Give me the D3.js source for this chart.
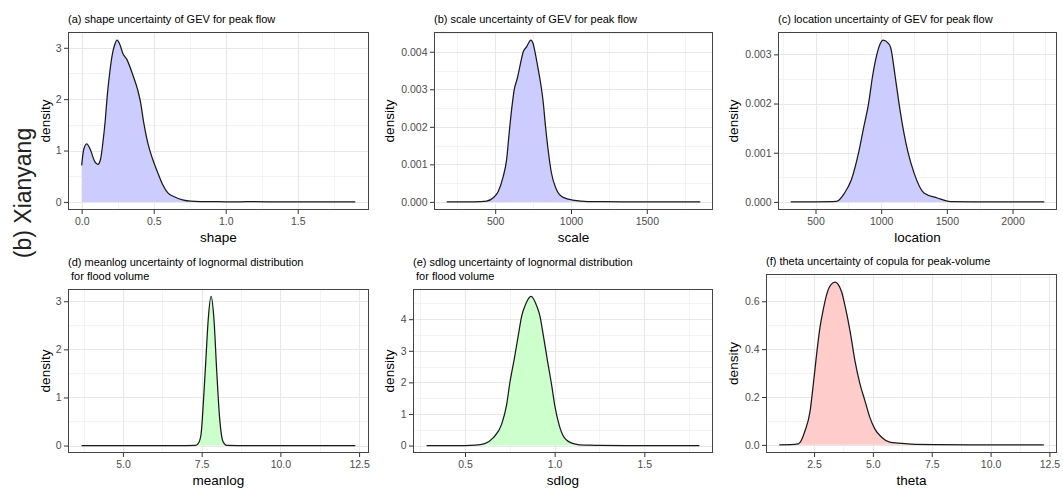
<!DOCTYPE html>
<html>
<head>
<meta charset="utf-8">
<script src="https://cdn.jsdelivr.net/npm/d3@7/dist/d3.min.js"></script>
<style>
  html, body { margin: 0; padding: 0; background: #fff; }
  svg { display: block; font-family: "Liberation Sans", Arial, sans-serif; }
</style>
</head>
<body>
<svg id="chart" width="1063" height="491"></svg>
<script>
// ---- Posterior density of each parameter (x = parameter value, y = density) ----
const shapeX = [0, 0.014, 0.035, 0.06, 0.09, 0.113, 0.131, 0.147, 0.164, 0.177, 0.194, 0.21, 0.228, 0.246, 0.263, 0.286, 0.316, 0.355, 0.389, 0.408, 0.431, 0.459, 0.493, 0.528, 0.562, 0.597, 0.643, 0.7, 0.758, 0.827, 0.9, 1.0, 1.1, 1.2, 1.3, 1.4, 1.5, 1.6, 1.7, 1.8, 1.9];
const shapeDensity = [0.71, 1.02, 1.13, 1.02, 0.79, 0.73, 0.83, 1.15, 1.6, 2.05, 2.5, 2.83, 3.05, 3.15, 3.08, 2.89, 2.76, 2.47, 2.18, 1.95, 1.54, 1.15, 0.83, 0.57, 0.34, 0.18, 0.1, 0.04, 0.013, 0.006, 0.004, 0.003, 0.003, 0.004, 0.003, 0.002, 0.001, 0.001, 0.0005, 0.0003, 0.0002];

const scaleX = [180, 300, 400, 443, 487, 520, 553, 575, 592, 608, 625, 645, 667, 685, 707, 735, 750, 766, 783, 799, 816, 832, 849, 871, 904, 948, 1025, 1112, 1200, 1400, 1600, 1853];
const scaleDensity = [0, 0.000003, 0.00001, 0.00002, 0.00011, 0.00028, 0.00068, 0.00112, 0.00183, 0.00245, 0.00298, 0.00328, 0.00369, 0.0040, 0.00413, 0.00431, 0.00422, 0.00392, 0.00355, 0.00318, 0.00268, 0.00201, 0.00139, 0.00077, 0.00033, 0.00012, 0.00004, 0.00001, 0.000005, 0.000002, 0.000001, 0];

const locationX = [311, 500, 659, 721, 773, 828, 868, 904, 934, 967, 990, 1015, 1056, 1073, 1106, 1136, 1174, 1205, 1250, 1326, 1427, 1528, 1700, 2000, 2242];
const locationDensity = [0, 0.000002, 0.00001, 0.00018, 0.00045, 0.001, 0.00153, 0.002, 0.00255, 0.003, 0.0032, 0.00329, 0.00322, 0.00313, 0.00256, 0.002, 0.00139, 0.001, 0.00059, 0.00018, 0.00008, 0.000005, 0.000001, 0, 0];

const meanlogX = [3.69, 6.0, 7.0, 7.3, 7.39, 7.48, 7.55, 7.63, 7.71, 7.8, 7.89, 7.98, 8.07, 8.18, 8.3, 9.0, 10.5, 12.38];
const meanlogDensity = [0, 0, 0, 0.002, 0.04, 0.23, 0.85, 1.74, 2.63, 3.1, 2.63, 1.53, 0.58, 0.08, 0.005, 0, 0, 0];

const sdlogX = [0.286, 0.5, 0.556, 0.61, 0.658, 0.704, 0.732, 0.751, 0.775, 0.797, 0.816, 0.838, 0.868, 0.9, 0.918, 0.937, 0.961, 0.983, 1.0, 1.024, 1.054, 1.104, 1.169, 1.197, 1.25, 1.4, 1.807];
const sdlogDensity = [0, 0, 0.01, 0.06, 0.25, 0.67, 1.29, 2.02, 2.75, 3.48, 4.1, 4.47, 4.72, 4.42, 4.1, 3.48, 2.65, 1.92, 1.29, 0.67, 0.25, 0.06, 0.01, 0.015, 0.003, 0.001, 0];

const thetaX = [1.02, 1.5, 1.835, 2.12, 2.33, 2.47, 2.61, 2.75, 2.9, 3.04, 3.22, 3.39, 3.53, 3.67, 3.84, 4.03, 4.24, 4.45, 4.66, 4.87, 5.08, 5.37, 5.72, 6.07, 6.64, 7.77, 9.18, 12.26];
const thetaDensity = [0, 0.0005, 0.004, 0.06, 0.14, 0.255, 0.38, 0.49, 0.57, 0.63, 0.67, 0.68, 0.67, 0.64, 0.57, 0.475, 0.35, 0.255, 0.185, 0.115, 0.067, 0.032, 0.011, 0.007, 0.003, 0.001, 0.0002, 0];

// ---- Axis tick values and their labels ----
const shapeTicks = [0, 0.5, 1.0, 1.5];
const shapeTickLabels = ["0.0", "0.5", "1.0", "1.5"];
const shapeYTicks = [0, 1, 2, 3];
const shapeYTickLabels = ["0", "1", "2", "3"];

const scaleTicks = [500, 1000, 1500];
const scaleTickLabels = ["500", "1000", "1500"];
const scaleYTicks = [0, 0.001, 0.002, 0.003, 0.004];
const scaleYTickLabels = ["0.000", "0.001", "0.002", "0.003", "0.004"];

const locationTicks = [500, 1000, 1500, 2000];
const locationTickLabels = ["500", "1000", "1500", "2000"];
const locationYTicks = [0, 0.001, 0.002, 0.003];
const locationYTickLabels = ["0.000", "0.001", "0.002", "0.003"];

const meanlogTicks = [5.0, 7.5, 10.0, 12.5];
const meanlogTickLabels = ["5.0", "7.5", "10.0", "12.5"];
const meanlogYTicks = [0, 1, 2, 3];
const meanlogYTickLabels = ["0", "1", "2", "3"];

const sdlogTicks = [0.5, 1.0, 1.5];
const sdlogTickLabels = ["0.5", "1.0", "1.5"];
const sdlogYTicks = [0, 1, 2, 3, 4];
const sdlogYTickLabels = ["0", "1", "2", "3", "4"];

const thetaTicks = [2.5, 5.0, 7.5, 10.0, 12.5];
const thetaTickLabels = ["2.5", "5.0", "7.5", "10.0", "12.5"];
const thetaYTicks = [0, 0.2, 0.4, 0.6];
const thetaYTickLabels = ["0.0", "0.2", "0.4", "0.6"];

// ---- Panel titles and axis titles ----
const panelTitles = [
  ["(a) shape uncertainty of GEV for peak flow"],
  ["(b) scale uncertainty of GEV for peak flow"],
  ["(c) location uncertainty of GEV for peak flow"],
  ["(d) meanlog uncertainty of lognormal distribution", " for flood volume"],
  ["(e) sdlog uncertainty of lognormal distribution", " for flood volume"],
  ["(f) theta uncertainty of copula for peak-volume"]
];
const xTitles = ["shape", "scale", "location", "meanlog", "sdlog", "theta"];
const yTitle = "density";
const stationLabel = "(b) Xianyang";

// ---- Fill colours (20% tint of blue / green / red) ----
const FILL_BLUE = "#ccccff", FILL_GREEN = "#ccffcc", FILL_RED = "#ffcccc";

// ---- Panel layout in pixels (yTitleX = absolute x of the rotated "density" title) ----
const panels = [
  { x: shapeX, y: shapeDensity, xt: shapeTicks, xl: shapeTickLabels, yt: shapeYTicks, yl: shapeYTickLabels,
    fill: FILL_BLUE, left: 68, top: 32, right: 369, bottom: 210, yTitleX: 45 },
  { x: scaleX, y: scaleDensity, xt: scaleTicks, xl: scaleTickLabels, yt: scaleYTicks, yl: scaleYTickLabels,
    fill: FILL_BLUE, left: 434, top: 32, right: 713, bottom: 210, yTitleX: 389 },
  { x: locationX, y: locationDensity, xt: locationTicks, xl: locationTickLabels, yt: locationYTicks, yl: locationYTickLabels,
    fill: FILL_BLUE, left: 778, top: 32, right: 1057, bottom: 210, yTitleX: 733 },
  { x: meanlogX, y: meanlogDensity, xt: meanlogTicks, xl: meanlogTickLabels, yt: meanlogYTicks, yl: meanlogYTickLabels,
    fill: FILL_GREEN, left: 68, top: 289, right: 369, bottom: 453, yTitleX: 45 },
  { x: sdlogX, y: sdlogDensity, xt: sdlogTicks, xl: sdlogTickLabels, yt: sdlogYTicks, yl: sdlogYTickLabels,
    fill: FILL_GREEN, left: 413, top: 289, right: 713, bottom: 453, yTitleX: 389 },
  { x: thetaX, y: thetaDensity, xt: thetaTicks, xl: thetaTickLabels, yt: thetaYTicks, yl: thetaYTickLabels,
    fill: FILL_RED, left: 766, top: 274, right: 1057, bottom: 453, yTitleX: 733 }
];

const svg = d3.select("#chart");

// Minor breaks: midpoints between majors, plus one step beyond each end when inside the domain
function minorBreaks(major, domain) {
  const step = major.length > 1 ? major[1] - major[0] : 1;
  const out = [];
  const first = major[0] - step / 2;
  if (first >= domain[0]) out.push(first);
  for (let i = 0; i < major.length - 1; i++) out.push((major[i] + major[i + 1]) / 2);
  const last = major[major.length - 1] + step / 2;
  if (last <= domain[1]) out.push(last);
  return out;
}

panels.forEach((p, i) => {
  const w = p.right - p.left, h = p.bottom - p.top;
  const xMin = d3.min(p.x), xMax = d3.max(p.x);
  const yMax = d3.max(p.y);
  const xPad = (xMax - xMin) * 0.05, yPad = yMax * 0.05;
  const xDom = [xMin - xPad, xMax + xPad], yDom = [-yPad, yMax + yPad];
  const x = d3.scaleLinear().domain(xDom).range([0, w]);
  const y = d3.scaleLinear().domain(yDom).range([h, 0]);

  const g = svg.append("g").attr("transform", `translate(${p.left},${p.top})`);
  g.append("rect").attr("width", w).attr("height", h).attr("fill", "#fff");

  // grid
  const grid = g.append("g");
  minorBreaks(p.xt, xDom).forEach(v => grid.append("line")
    .attr("x1", Math.round(x(v)) + 0.5).attr("x2", Math.round(x(v)) + 0.5).attr("y1", 0).attr("y2", h)
    .attr("stroke", "#f3f3f3").attr("stroke-width", 1));
  minorBreaks(p.yt, yDom).forEach(v => grid.append("line")
    .attr("y1", Math.round(y(v)) + 0.5).attr("y2", Math.round(y(v)) + 0.5).attr("x1", 0).attr("x2", w)
    .attr("stroke", "#f3f3f3").attr("stroke-width", 1));
  p.xt.forEach(v => grid.append("line")
    .attr("x1", Math.round(x(v)) + 0.5).attr("x2", Math.round(x(v)) + 0.5).attr("y1", 0).attr("y2", h)
    .attr("stroke", "#e8e8e8").attr("stroke-width", 1.1));
  p.yt.forEach(v => grid.append("line")
    .attr("y1", Math.round(y(v)) + 0.5).attr("y2", Math.round(y(v)) + 0.5).attr("x1", 0).attr("x2", w)
    .attr("stroke", "#e8e8e8").attr("stroke-width", 1.1));

  // density area and outline
  const pts = p.x.map((v, k) => [v, p.y[k]]);
  const area = d3.area().x(d => x(d[0])).y0(y(0)).y1(d => y(d[1])).curve(d3.curveMonotoneX);
  const line = d3.line().x(d => x(d[0])).y(d => y(d[1])).curve(d3.curveMonotoneX);
  g.append("path").datum(pts).attr("d", area).attr("fill", p.fill);
  g.append("path").datum(pts).attr("d", line).attr("fill", "none")
    .attr("stroke", "#1a1a1a").attr("stroke-width", 1.25).attr("stroke-linejoin", "round");

  // panel border
  g.append("rect").attr("x", 0.5).attr("y", 0.5).attr("width", w - 1).attr("height", h - 1)
    .attr("fill", "none").attr("stroke", "#444").attr("stroke-width", 1);

  // axes
  const xAxis = d3.axisBottom(x).tickValues(p.xt).tickFormat((d, k) => p.xl[k]).tickSize(4).tickPadding(4);
  const yAxis = d3.axisLeft(y).tickValues(p.yt).tickFormat((d, k) => p.yl[k]).tickSize(4).tickPadding(2.5);
  const gx = g.append("g").attr("transform", `translate(0,${h})`).call(xAxis);
  const gy = g.append("g").call(yAxis);
  [gx, gy].forEach(a => {
    a.select(".domain").remove();
    a.selectAll(".tick line").attr("stroke", "#333");
    a.selectAll(".tick text").attr("fill", "#4d4d4d").style("font-size", "10.5px")
      .style("font-family", '"Liberation Sans", Arial, sans-serif');
  });

  // axis titles
  g.append("text").attr("x", w / 2).attr("y", h + 32).attr("text-anchor", "middle")
    .style("font-size", "13.5px").attr("fill", "#000").text(xTitles[i]);
  g.append("text").attr("transform", `translate(${p.yTitleX - p.left},${h / 2}) rotate(-90)`)
    .attr("text-anchor", "middle").attr("dy", "0.35em")
    .style("font-size", "13.5px").attr("fill", "#000").text(yTitle);

  // panel title (one or two lines)
  const lines = panelTitles[i];
  const t0 = lines.length === 2 ? -23 : -9;
  lines.forEach((s, k) => {
    g.append("text").attr("x", 0).attr("y", t0 + k * 14)
      .style("font-size", "11px").style("white-space", "pre").attr("fill", "#000").text(s);
  });
});

// station label on the left margin
svg.append("text").attr("transform", "translate(31,193) rotate(-90)")
  .attr("text-anchor", "middle")
  .style("font-size", "23px").attr("fill", "#222").text(stationLabel);
</script>
</body>
</html>
